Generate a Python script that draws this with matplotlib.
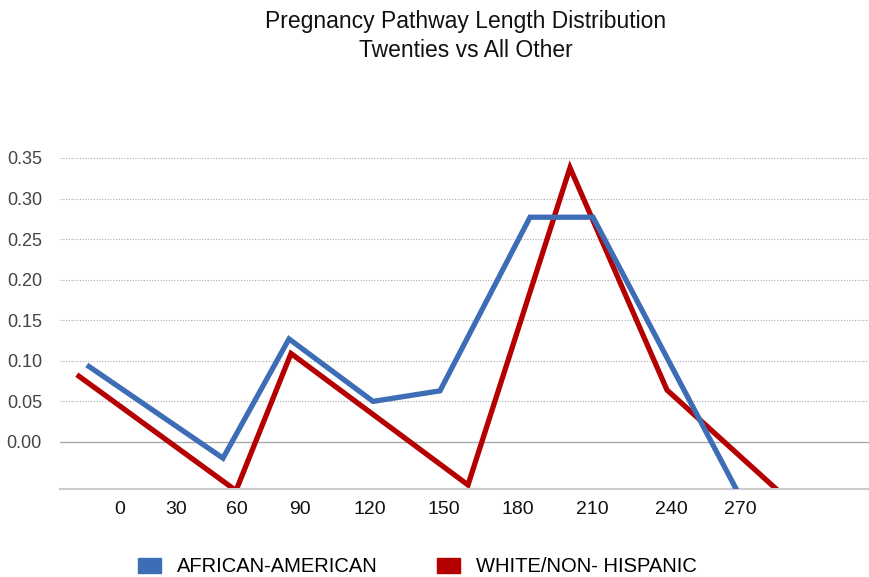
import matplotlib
matplotlib.use("Agg")
import matplotlib.pyplot as plt
from matplotlib.patches import Patch

# positions along the horizontal axis (axis units)
blue_x = [89, 223, 289, 373, 440, 530, 593, 737]
blue_y = [0.093, -0.020, 0.127, 0.050, 0.063, 0.277, 0.277, -0.060]
red_x = [79, 236, 291, 468, 570, 667, 778]
red_y = [0.081, -0.060, 0.109, -0.053, 0.338, 0.064, -0.060]

tick_pos = [120, 176, 237, 300, 370, 444, 518, 592, 671, 740]
tick_lab = ["0", "30", "60", "90", "120", "150", "180", "210", "240", "270"]
y_ticks = [0.00, 0.05, 0.10, 0.15, 0.20, 0.25, 0.30, 0.35]

blue = "#3d6db5"
red = "#b40000"
sans = ["Liberation Sans", "DejaVu Sans"]

fig = plt.figure(figsize=(8.7, 5.77), dpi=100)
ax = fig.add_axes([60 / 870, 1 - 489 / 577, 810 / 870, (489 - 158) / 577])
ax.set_xlim(60, 870)
ax.set_ylim(-0.058, 0.35)

# grid
for v in y_ticks[1:]:
    ax.axhline(v, color="#aaaaaa", lw=0.8, ls=(0, (1, 1.5)), zorder=0)
ax.axhline(0, color="#aaaaaa", lw=1.0, zorder=0)
for s in ["top", "right", "left"]:
    ax.spines[s].set_visible(False)
ax.spines["bottom"].set_color("#cccccc")
ax.spines["bottom"].set_linewidth(1.5)

ax.plot(blue_x, blue_y, color=blue, lw=3.8, solid_joinstyle="miter", zorder=3)
ax.plot(red_x, red_y, color=red, lw=3.8, solid_joinstyle="miter", zorder=2)

ax.set_yticks(y_ticks)
ax.set_yticklabels([f"{v:.2f}" for v in y_ticks], color="#444444",
                   fontsize=13, family=sans)
ax.set_xticks(tick_pos)
ax.set_xticklabels(tick_lab, fontsize=14, family=sans, color="#111111")
ax.tick_params(axis="y", length=0, pad=13)
ax.tick_params(axis="x", length=0, pad=9)

fig.text(466 / 870, 1 - 36 / 577,
         "Pregnancy Pathway Length Distribution\nTwenties vs All Other",
         ha="center", va="center", fontsize=16.5, linespacing=1.3,
         family=sans, color="#111111")

handles = [Patch(color=blue, label="AFRICAN-AMERICAN"),
           Patch(color=red, label="WHITE/NON- HISPANIC")]
leg = fig.legend(handles=handles, loc="center left",
                 bbox_to_anchor=(120 / 870, 1 - 567 / 577), ncol=2,
                 frameon=False, handlelength=1.13, handleheight=0.8,
                 handletextpad=0.8, columnspacing=2.95,
                 prop={"family": sans, "size": 14.5})

fig.savefig("out.png", dpi=100)
